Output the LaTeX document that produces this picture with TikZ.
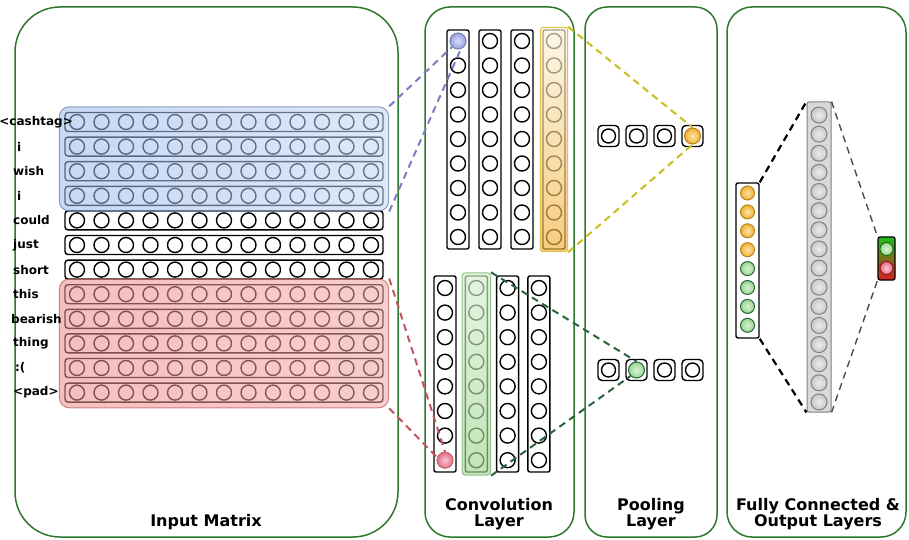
\documentclass[tikz,border=0pt]{standalone}
\usepackage{fontspec}
\setmainfont{DejaVu Sans}
\usetikzlibrary{fit,calc}

\definecolor{panelgreen}{RGB}{45,120,45}
\definecolor{blueov}{RGB}{155,186,236}
\definecolor{blueovl}{RGB}{195,215,246}
\definecolor{blueedge}{RGB}{120,135,175}
\definecolor{redov}{RGB}{238,140,140}
\definecolor{redovl}{RGB}{244,165,165}
\definecolor{rededge}{RGB}{195,110,110}
\definecolor{oranget}{RGB}{253,244,220}
\definecolor{orangeb}{RGB}{242,176,60}
\definecolor{orangeedge}{RGB}{225,195,70}
\definecolor{greent}{RGB}{215,240,208}
\definecolor{greenb}{RGB}{160,215,145}
\definecolor{greenedge}{RGB}{150,195,135}
\definecolor{dashblue}{RGB}{125,125,195}
\definecolor{dashred}{RGB}{195,85,95}
\definecolor{dashyellow}{RGB}{200,190,30}
\definecolor{dashgreen}{RGB}{40,100,60}
\definecolor{orangeball}{RGB}{244,176,40}
\definecolor{greenball}{RGB}{150,215,140}
\definecolor{grayball}{RGB}{200,200,200}
\definecolor{blueball}{RGB}{150,160,230}
\definecolor{pinkball}{RGB}{232,105,135}
\definecolor{outgreen}{RGB}{30,190,30}
\definecolor{outred}{RGB}{215,30,30}

\begin{document}
\begin{tikzpicture}[x=1pt,y=-1pt,
  panel/.style={draw=panelgreen, line width=1.5pt, fill=white},
  cell/.style={circle, draw, line width=1.4pt, fill=white, minimum size=15pt, inner sep=0pt},
  rowbox/.style={draw, line width=1.4pt, fill=white, rounded corners=3pt,
                 minimum width=318pt, minimum height=19pt, inner sep=0pt},
  colbox/.style={draw, line width=1.4pt, fill=white, rounded corners=2pt,
                 minimum width=22pt, inner sep=0pt},
  poolbox/.style={draw, line width=1.4pt, fill=white, rounded corners=4pt,
                  minimum size=21pt, inner sep=0pt},
  word/.style={anchor=west, inner sep=0pt, font=\bfseries\fontsize{12}{12}\selectfont},
  title/.style={align=center, inner sep=0pt, font=\bfseries\fontsize{16}{16}\selectfont},
  ball/.style={circle, inner sep=0pt, line width=1pt, shading=radial,
               inner color=#1!35!white, outer color=#1},
  link/.style={dash pattern=on 7pt off 5pt, line width=2pt},
]
\useasboundingbox (0,0) rectangle (909,540);

% ---- panels ----
\draw[panel, rounded corners=45pt] (15,7) rectangle (398,537);
\draw[panel, rounded corners=25pt] (425,7) rectangle (574,537);
\draw[panel, rounded corners=22pt] (585,7) rectangle (717,537);
\draw[panel, rounded corners=25pt] (727,7) rectangle (906,537);

\node[title] (tin)   at (206,522) {Input Matrix};
\node[title] (tconv) at (499,514) {Convolution\\Layer};
\node[title] (tpool) at (651,514) {Pooling\\Layer};
\node[title] (tfc)   at (818,514) {Fully Connected \&\\Output Layers};

% ---- input matrix: 12 word vectors of 13 cells ----
\foreach \i in {0,...,11} {
  \pgfmathsetmacro\yy{122+24.6*\i}
  \node[rowbox] (r\i) at (224,\yy) {};
  \foreach \j in {0,...,12}
    \node[cell] (r\i-\j) at ({77+24.5*\j},\yy) {};
}

% highlighted filter regions
\node[fit=(r0)(r3), inner sep=5pt, rounded corners=10pt, draw=blueedge, draw opacity=0.8,
      left color=blueov, right color=blueovl, fill opacity=0.55, line width=1pt] (bluehl) {};
\node[fit=(r7)(r11), inner sep=5pt, rounded corners=10pt, draw=rededge, draw opacity=0.8,
      left color=redov, right color=redovl, fill opacity=0.55, line width=1pt] (redhl) {};

% word labels
\node[word, anchor=east] (w0) at (73,122) {<cashtag>};
\node[word] (w1)  at (17,146.6) {i};
\node[word] (w2)  at (13,171.2) {wish};
\node[word] (w3)  at (17,195.8) {i};
\node[word] (w4)  at (13,220.4) {could};
\node[word] (w5)  at (13,245.0) {just};
\node[word] (w6)  at (13,269.6) {short};
\node[word] (w7)  at (13,294.2) {this};
\node[word] (w8)  at (11,318.8) {bearish};
\node[word] (w9)  at (13,343.4) {thing};
\node[word] (w10) at (15,368.0) {:(};
\node[word] (w11) at (13,392.6) {<pad>};

% ---- convolution layer: two filter groups ----
\foreach \k in {0,...,3} {
  \node[colbox, minimum height=219pt] (ta\k) at ({458+32*\k},139.5) {};
  \foreach \m in {0,...,8}
    \node[cell] (ta\k-\m) at ({458+32*\k},{41+24.5*\m}) {};
}
\foreach \k in {0,...,3} {
  \node[colbox, minimum height=196pt] (tb\k) at ({445+31.3*\k},374) {};
  \foreach \m in {0,...,7}
    \node[cell] (tb\k-\m) at ({445+31.3*\k},{288+24.6*\m}) {};
}

\node[ball=blueball, draw=blueedge, minimum size=16pt] (bluec) at (ta0-0) {};
\node[ball=pinkball, draw=rededge, minimum size=16pt] (pinkc) at (tb0-7) {};

\node[fit=(ta3), inner sep=2pt, rounded corners=3pt, draw=orangeedge, line width=1pt,
      top color=oranget, bottom color=orangeb, fill opacity=0.65] (orangehl) {};
\node[fit=(tb1), inner sep=2.5pt, rounded corners=3pt, draw=greenedge, line width=1pt,
      top color=greent, bottom color=greenb, fill opacity=0.65] (greenhl) {};

% ---- pooling layer ----
\foreach \k in {0,...,3} {
  \node[poolbox] (pa\k) at ({608.5+28*\k},136) {};
  \node[cell, minimum size=14pt] (pac\k) at (pa\k) {};
  \node[poolbox] (pb\k) at ({608.5+28*\k},370) {};
  \node[cell, minimum size=14pt] (pbc\k) at (pb\k) {};
}
\node[ball=orangeball, draw=orangeball!75!black, minimum size=16pt] (pao) at (pa3) {};
\node[ball=greenball, draw=dashgreen, minimum size=16pt] (pbg) at (pb1) {};

% ---- fully connected & output ----
\node[colbox, minimum width=23pt, minimum height=155pt] (cat) at (747.5,260.5) {};
\foreach \m in {0,...,3}
  \node[ball=orangeball, draw=orangeball!75!black, minimum size=14pt] (cat-\m) at (747.5,{193+18.9*\m}) {};
\foreach \m in {4,...,7}
  \node[ball=greenball, draw=dashgreen, minimum size=14pt] (cat-\m) at (747.5,{193+18.9*\m}) {};

\node[draw=gray, fill=grayball!70!white, rounded corners=2pt, line width=1pt, inner sep=0pt,
      minimum width=24pt, minimum height=310pt] (hid) at (819,257) {};
\foreach \m in {0,...,15}
  \node[ball=grayball, draw=gray, minimum size=16pt] (hid-\m) at (819,{115+19.13*\m}) {};

\node[draw, line width=1.2pt, rounded corners=2pt, inner sep=0pt, minimum width=17pt,
      minimum height=43pt, top color=outgreen, bottom color=outred] (out) at (886.5,258.5) {};
\node[ball=greenball, draw=outgreen!60!black, minimum size=13pt] (outg) at (886.5,249) {};
\node[ball=pinkball, draw=outred!70!black, minimum size=13pt] (outr) at (886.5,268) {};

% ---- connectors ----
\draw[link, dashblue] (bluehl.north east) -- (bluec.south west);
\draw[link, dashblue] (bluehl.south east) -- (bluec.-70);
\draw[link, dashred] (redhl.north east) -- (pinkc.north);
\draw[link, dashred] (redhl.south east) -- (pinkc.160);
\draw[link, dashyellow] (orangehl.north east) -- (pao.north);
\draw[link, dashyellow] (orangehl.south east) -- (pao.south);
\draw[link, dashgreen] (greenhl.north east) -- (pbg.north);
\draw[link, dashgreen] (greenhl.south east) -- (pbg.south west);
\draw[link, black, line width=2.2pt] (cat.north east) -- (hid.north west);
\draw[link, black, line width=2.2pt] (cat.south east) -- (hid.south west);
\draw[link, black!70, line width=1.4pt] (hid.north east) -- (out.north west);
\draw[link, black!70, line width=1.4pt] (hid.south east) -- (out.south west);
\end{tikzpicture}
\end{document}
